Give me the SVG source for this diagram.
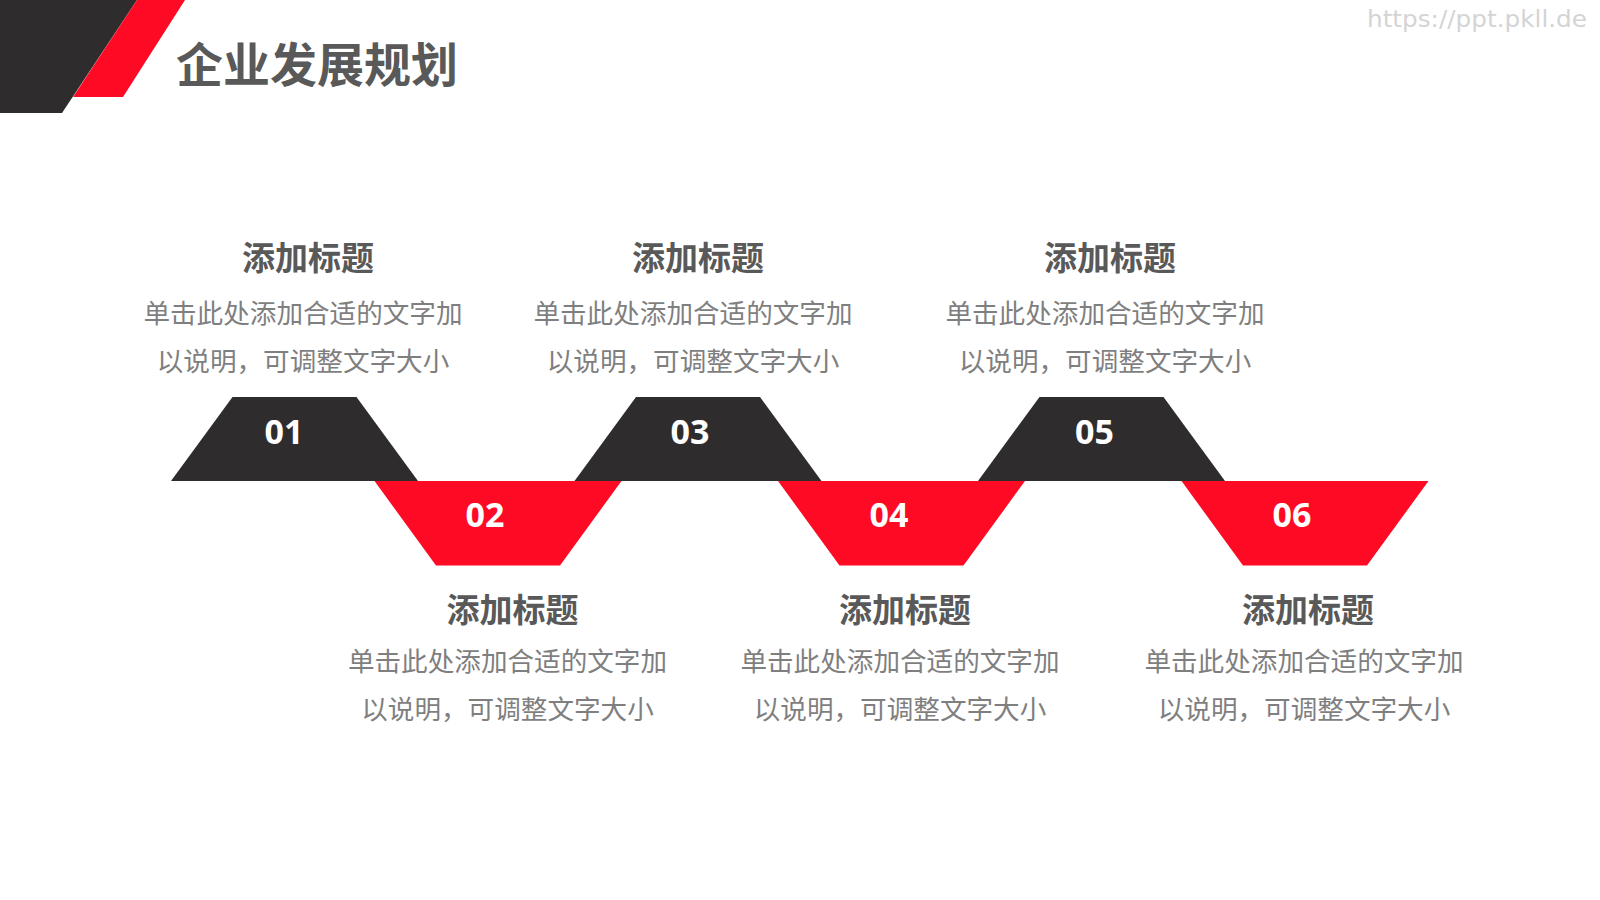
<svg xmlns="http://www.w3.org/2000/svg" width="1600" height="900" viewBox="0 0 1600 900">
<style>
.dark{fill:#2f2c2d}
.red{fill:#fe0a24}
.num{font-family:"Open Sans","Liberation Sans",sans-serif;font-weight:700;font-size:34px;fill:#ffffff;text-anchor:middle}
.ttl{font-family:"Noto Sans CJK SC","Noto Sans",sans-serif;font-weight:700;font-size:33px;fill:#595959;text-anchor:middle}
.body{font-family:"Noto Sans CJK SC","Noto Sans",sans-serif;font-weight:400;font-size:26.6px;fill:#7f7f7f;text-anchor:middle}
.head{font-family:"Noto Sans CJK SC","Noto Sans",sans-serif;font-weight:700;font-size:47px;fill:#595959}
.wm{font-family:"DejaVu Sans","Liberation Sans",sans-serif;font-size:23px;fill:#d4d4d4}
</style>
<rect width="1600" height="900" fill="#ffffff"/>
<g id="header">
<polygon class="dark" points="0,0 137,0 62,113 0,113"/>
<polygon class="red" points="137,0 185,0 123,97 73,97"/>
<text class="head" x="176" y="82">企业发展规划</text>
</g>
<g id="watermark">
<text class="wm" x="1367" y="27" textLength="220" lengthAdjust="spacingAndGlyphs">https://ppt.pkll.de</text>
</g>
<g id="step01">
<polygon class="dark" points="171,481 418,481 356.5,397 232.5,397"/>
<text class="num" x="284" y="444">01</text>
<text class="ttl" x="308" y="270">添加标题</text>
<text class="body" x="303" y="323">单击此处添加合适的文字加</text>
<text class="body" x="303" y="371">以说明，可调整文字大小</text>
</g>
<g id="step02">
<polygon class="red" points="374.5,481 621.5,481 560,565.5 436,565.5"/>
<text class="num" x="485" y="527">02</text>
<text class="ttl" x="512.5" y="622">添加标题</text>
<text class="body" x="507.5" y="671">单击此处添加合适的文字加</text>
<text class="body" x="507.5" y="719">以说明，可调整文字大小</text>
</g>
<g id="step03">
<polygon class="dark" points="574.5,481 821.5,481 760,397 636,397"/>
<text class="num" x="690" y="444">03</text>
<text class="ttl" x="698" y="270">添加标题</text>
<text class="body" x="693" y="323">单击此处添加合适的文字加</text>
<text class="body" x="693" y="371">以说明，可调整文字大小</text>
</g>
<g id="step04">
<polygon class="red" points="778,481 1025,481 963.5,565.5 839.5,565.5"/>
<text class="num" x="889" y="527">04</text>
<text class="ttl" x="905" y="622">添加标题</text>
<text class="body" x="900" y="671">单击此处添加合适的文字加</text>
<text class="body" x="900" y="719">以说明，可调整文字大小</text>
</g>
<g id="step05">
<polygon class="dark" points="978,481 1225,481 1163.5,397 1039.5,397"/>
<text class="num" x="1094.5" y="444">05</text>
<text class="ttl" x="1110" y="270">添加标题</text>
<text class="body" x="1105" y="323">单击此处添加合适的文字加</text>
<text class="body" x="1105" y="371">以说明，可调整文字大小</text>
</g>
<g id="step06">
<polygon class="red" points="1181.5,481 1428.5,481 1367,565.5 1243,565.5"/>
<text class="num" x="1292" y="527">06</text>
<text class="ttl" x="1308" y="622">添加标题</text>
<text class="body" x="1304" y="671">单击此处添加合适的文字加</text>
<text class="body" x="1304" y="719">以说明，可调整文字大小</text>
</g>
<g id="connectors"></g>
</svg>
